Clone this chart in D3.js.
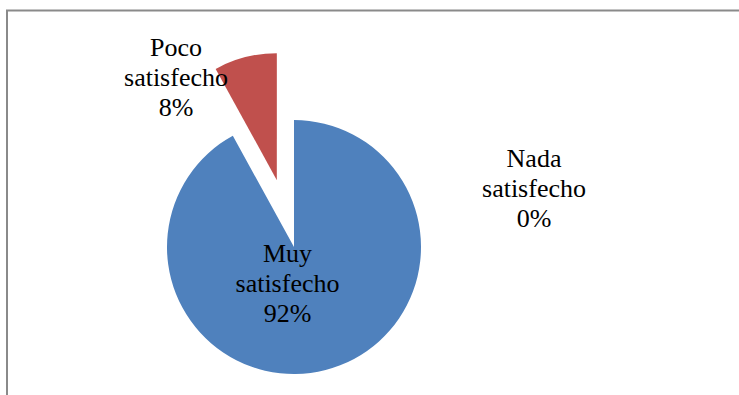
<!DOCTYPE html>
<html>
<head>
<meta charset="utf-8">
<script src="https://cdn.jsdelivr.net/npm/d3@7"></script>
<style>
html,body{margin:0;padding:0;background:#fff;}
svg{display:block;}
text.lbl{font-family:"Liberation Serif","Times New Roman",Times,"DejaVu Serif",serif;}
</style>
</head>
<body>
<svg id="chart" width="739" height="395"></svg>
<script>
const categories = ["Muy satisfecho", "Poco satisfecho", "Nada satisfecho"];
const labelLines = [["Muy", "satisfecho"], ["Poco", "satisfecho"], ["Nada", "satisfecho"]];
const values = [92, 8, 0];
const percentLabels = ["92%", "8%", "0%"];
const colors = ["#4F81BD", "#C0504D", "#9BBB59"];

const svg = d3.select("#chart");

svg.append("rect")
  .attr("x", 7).attr("y", 10.5)
  .attr("width", 760).attr("height", 420)
  .attr("fill", "none")
  .attr("stroke", "#8a8a8a")
  .attr("stroke-width", 2);

const cx = 294, cy = 247, r = 127;
const explode = [0, 69, 0];

const pie = d3.pie().sort(null).value(d => d)
  .startAngle(0).endAngle(2 * Math.PI);
const arcsData = pie(values);
const arc = d3.arc().innerRadius(0).outerRadius(r);

const g = svg.append("g").attr("transform", `translate(${cx},${cy})`);

g.selectAll("path.slice")
  .data(arcsData)
  .join("path")
  .attr("class", "slice")
  .attr("d", arc)
  .attr("fill", (d, i) => colors[i])
  .attr("transform", (d, i) => {
    const a = (d.startAngle + d.endAngle) / 2;
    const dx = Math.sin(a) * explode[i];
    const dy = -Math.cos(a) * explode[i];
    return `translate(${dx},${dy})`;
  });

const labelOffsets = [[-6.5, 36], [-118, -170], [240, -59]];
const lineH = 30;

const labels = g.selectAll("text.lbl")
  .data(arcsData)
  .join("text")
  .attr("class", "lbl")
  .attr("text-anchor", "middle")
  .attr("font-size", 26)
  .attr("fill", "#000")
  .attr("transform", (d, i) => `translate(${labelOffsets[i][0]},${labelOffsets[i][1]})`);

labels.each(function(d, i) {
  const t = d3.select(this);
  const lines = [labelLines[i][0], labelLines[i][1], percentLabels[i]];
  lines.forEach((ln, k) => {
    t.append("tspan")
      .attr("x", 0)
      .attr("y", (k - 1) * lineH + 9)
      .text(ln);
  });
});
</script>
</body>
</html>
